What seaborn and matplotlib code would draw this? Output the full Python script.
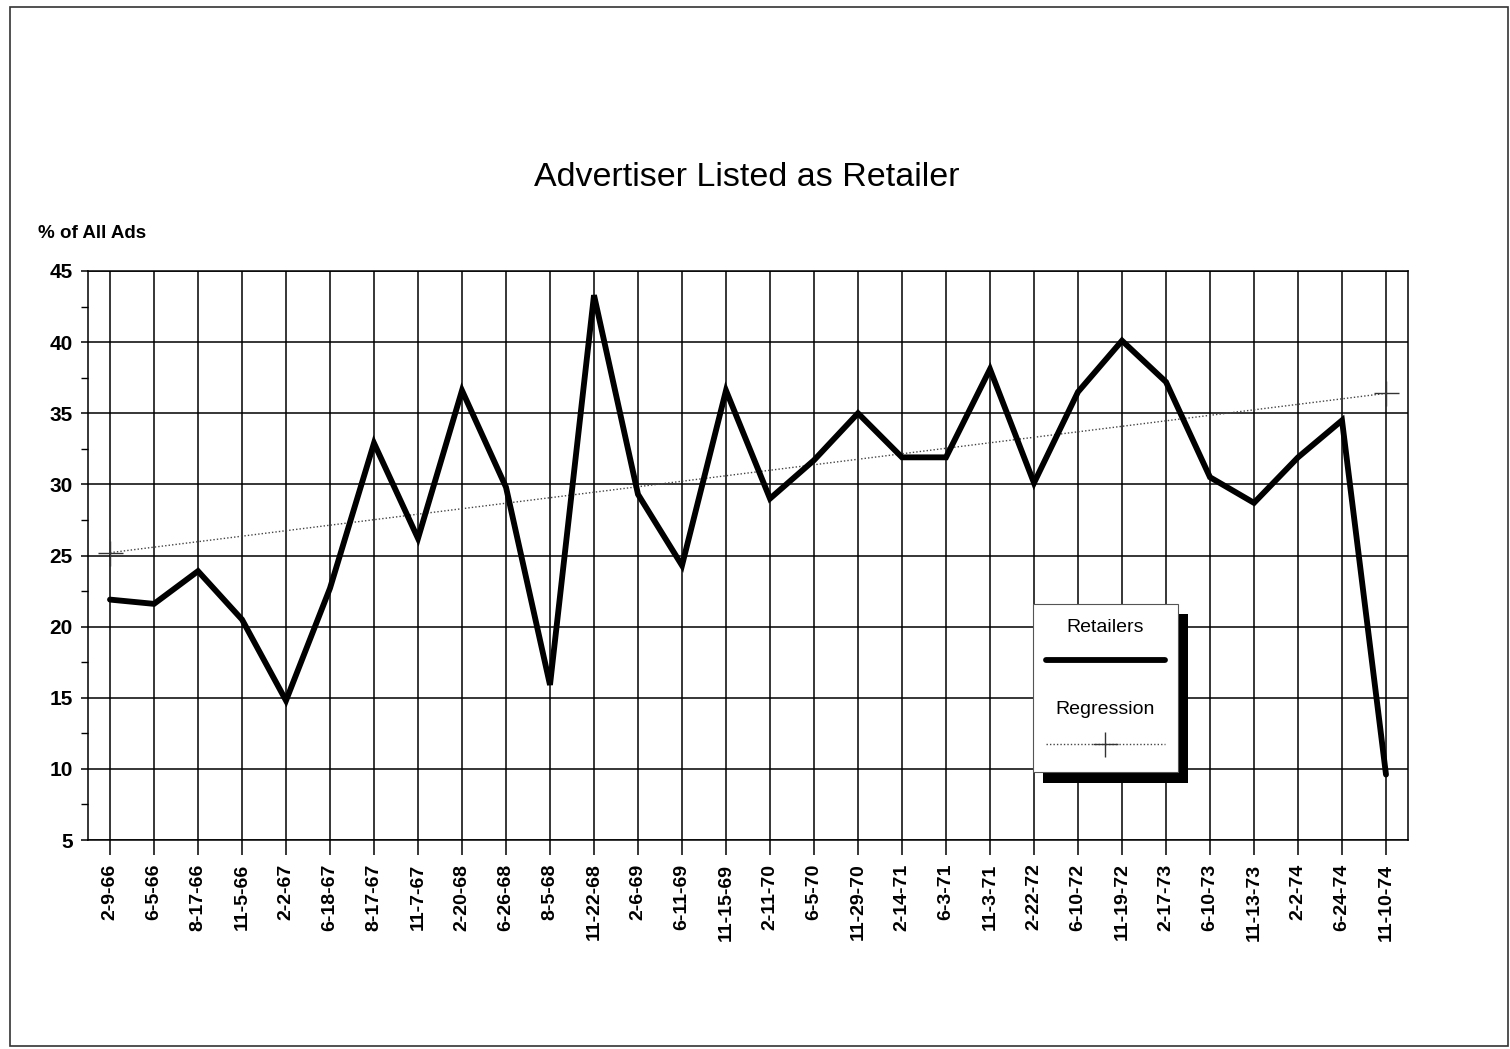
import numpy as np
import pandas as pd
import matplotlib
matplotlib.use("Agg")
import matplotlib.pyplot as plt
from matplotlib.lines import Line2D
from matplotlib.patches import Rectangle
from matplotlib.ticker import MultipleLocator
import seaborn as sns

# Issue dates of the sampled magazines
dates = ["2-9-66", "6-5-66", "8-17-66", "11-5-66", "2-2-67", "6-18-67", "8-17-67",
         "11-7-67", "2-20-68", "6-26-68", "8-5-68", "11-22-68", "2-6-69", "6-11-69",
         "11-15-69", "2-11-70", "6-5-70", "11-29-70", "2-14-71", "6-3-71", "11-3-71",
         "2-22-72", "6-10-72", "11-19-72", "2-17-73", "6-10-73", "11-13-73", "2-2-74",
         "6-24-74", "11-10-74"]

# Share of all ads whose advertiser is a retailer (%)
retailers = [21.9, 21.6, 23.9, 20.5, 14.8, 22.7, 32.9, 26.2, 36.6, 29.8, 15.9, 43.3,
             29.3, 24.3, 36.6, 29.0, 31.7, 35.0, 31.9, 31.9, 38.1, 30.1, 36.5, 40.1,
             37.2, 30.5, 28.7, 31.9, 34.5, 9.6]

# Regression trend line end values (first and last issue)
regression_dates = ["2-9-66", "11-10-74"]
regression_values = [25.2, 36.4]

sns.set_theme(style="white")
plt.rcParams["font.family"] = ["Liberation Sans", "DejaVu Sans"]

pos = {d: i for i, d in enumerate(dates)}
df = pd.DataFrame({"pos": [pos[d] for d in dates], "pct": retailers})
reg = pd.DataFrame({"pos": [pos[d] for d in regression_dates], "pct": regression_values})

fig = plt.figure(figsize=(15.1, 10.49), dpi=100)
ax = fig.add_axes([88 / 1510, 1 - 840 / 1049, 1320 / 1510, 569 / 1049])

sns.lineplot(data=reg, x="pos", y="pct", ax=ax, color="#444444", linewidth=1.0,
             linestyle=(0, (1, 1.5)), marker="+", markersize=18, markeredgewidth=1.0,
             markeredgecolor="#333333", zorder=3)
sns.lineplot(data=df, x="pos", y="pct", ax=ax, color="black", linewidth=4.2,
             solid_joinstyle="miter", zorder=4)

ax.set_xlim(-0.5, len(dates) - 0.5)
ax.set_ylim(5, 45)
ax.set_xticks(range(len(dates)))
ax.set_xticklabels(dates, rotation=90, fontsize=14, fontweight="bold")
ax.yaxis.set_major_locator(MultipleLocator(5))
ax.yaxis.set_minor_locator(MultipleLocator(2.5))
for lab in ax.get_yticklabels():
    lab.set_fontsize(15)
    lab.set_fontweight("bold")
ax.set_xlabel("")
ax.set_ylabel("")

ax.grid(True, which="major", axis="both", color="black", linewidth=1.1)
ax.set_axisbelow(True)
for sp in ax.spines.values():
    sp.set_color("black")
    sp.set_linewidth(1.1)
ax.tick_params(axis="x", which="major", bottom=True, length=11, width=1.1,
               color="black", pad=6, labelcolor="black")
ax.tick_params(axis="y", which="major", left=True, length=5, width=1.1,
               color="black", pad=6, labelcolor="black")
ax.tick_params(axis="y", which="minor", left=True, length=5, width=1.0, color="black")

fig.text(747 / 1510, 1 - 178 / 1049, "Advertiser Listed as Retailer", ha="center",
         va="center", fontsize=24.5, color="black")
fig.text(38 / 1510, 1 - 233 / 1049, "% of All Ads", ha="left", va="center",
         fontsize=13.5, fontweight="bold", color="black")

# Legend panel with drop shadow
def fx(x):
    return x / 1510

def fy(y):
    return 1 - y / 1049

fig.add_artist(Rectangle((fx(1043), fy(783)), fx(1188) - fx(1043), fy(614) - fy(783),
                         transform=fig.transFigure, facecolor="black", edgecolor="none",
                         zorder=10))
fig.add_artist(Rectangle((fx(1033), fy(772)), fx(1178) - fx(1033), fy(604) - fy(772),
                         transform=fig.transFigure, facecolor="white", edgecolor="#555555",
                         linewidth=0.8, zorder=11))
fig.text(fx(1105), fy(628), "Retailers", ha="center", va="center", fontsize=14,
         color="black", zorder=12)
fig.add_artist(Line2D([fx(1046), fx(1165)], [fy(660), fy(660)], transform=fig.transFigure,
                      color="black", linewidth=4.2, solid_capstyle="round", zorder=12))
fig.text(fx(1105), fy(710), "Regression", ha="center", va="center", fontsize=14,
         color="black", zorder=12)
fig.add_artist(Line2D([fx(1046), fx(1165)], [fy(744), fy(744)], transform=fig.transFigure,
                      color="#444444", linewidth=1.0, linestyle=(0, (1, 1.5)), zorder=12))
fig.add_artist(Line2D([fx(1105)], [fy(744)], transform=fig.transFigure, marker="+",
                      markersize=18, markeredgewidth=1.0, color="#333333",
                      linestyle="none", zorder=13))

# Outer page frame
fig.add_artist(Rectangle((fx(10), fy(1046)), fx(1508) - fx(10), fy(7) - fy(1046),
                         transform=fig.transFigure, facecolor="none", edgecolor="#333333",
                         linewidth=1.2, zorder=0))

fig.savefig("out.png", dpi=100, facecolor="white")
